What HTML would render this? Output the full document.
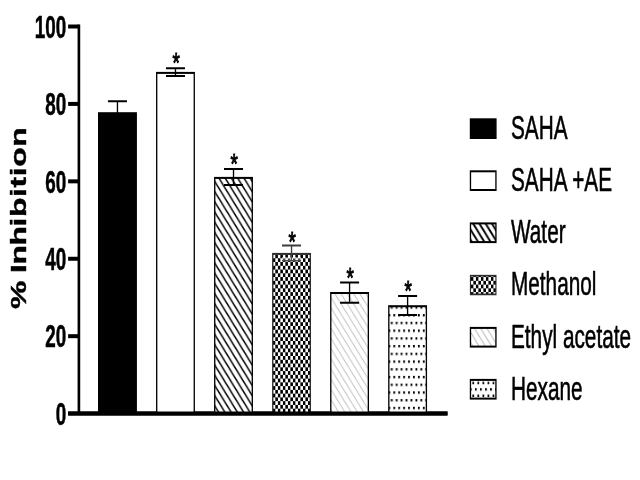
<!DOCTYPE html>
<html><head><meta charset="utf-8"><title>% Inhibition</title>
<style>html,body{margin:0;padding:0;background:#fff;overflow:hidden}svg{display:block}text{font-family:"Liberation Sans",sans-serif;fill:#000}</style>
</head><body>
<svg width="640" height="480" viewBox="0 0 960 480" preserveAspectRatio="none">
<defs>
<pattern id="hw" patternUnits="userSpaceOnUse" width="9.375" height="10.2" x="323.10" y="182.50">
<rect width="9.375" height="10.2" fill="#fff"/>
<path d="M-9.375,-10.2 L18.75,20.4 M0,-10.2 L18.75,10.2 M-9.375,0 L9.375,20.4" stroke="#000" stroke-width="1.9" fill="none"/>
</pattern>
<pattern id="he" patternUnits="userSpaceOnUse" width="9.375" height="10.2" x="500.25" y="311.90">
<rect width="9.375" height="10.2" fill="#fff"/>
<path d="M-9.375,-10.2 L18.75,20.4 M0,-10.2 L18.75,10.2 M-9.375,0 L9.375,20.4" stroke="#b0b0b0" stroke-width="1.0" fill="none"/>
</pattern>
<pattern id="hw2" patternUnits="userSpaceOnUse" width="9.375" height="10.2" x="719.10" y="223.60">
<rect width="9.375" height="10.2" fill="#fff"/>
<path d="M-9.375,-10.2 L18.75,20.4 M0,-10.2 L18.75,10.2 M-9.375,0 L9.375,20.4" stroke="#000" stroke-width="2.4" fill="none"/>
</pattern>
<pattern id="he2" patternUnits="userSpaceOnUse" width="9.375" height="10.2" x="711.75" y="328.50">
<rect width="9.375" height="10.2" fill="#fff"/>
<path d="M-9.375,-10.2 L18.75,20.4 M0,-10.2 L18.75,10.2 M-9.375,0 L9.375,20.4" stroke="#b4b4b4" stroke-width="1.1" fill="none"/>
</pattern>
<pattern id="ck" patternUnits="userSpaceOnUse" width="7.52" height="7.52" x="413.01" y="404.92">
<rect width="7.52" height="7.52" fill="#fff"/><rect x="0" y="0" width="3.76" height="3.76" fill="#000"/><rect x="3.76" y="3.76" width="3.76" height="3.76" fill="#000"/>
</pattern>
<pattern id="dt" patternUnits="userSpaceOnUse" width="7.38" height="15.46" x="590.02" y="406.80">
<rect width="7.38" height="15.46" fill="#fff"/><rect x="0" y="0" width="2.7" height="2.4" fill="#000"/><rect x="3.69" y="7.73" width="2.7" height="2.4" fill="#000"/>
</pattern>
<pattern id="dt2" patternUnits="userSpaceOnUse" width="7.58" height="12.8" x="712.35" y="388.20">
<rect width="7.58" height="12.8" fill="#fff"/><rect x="0" y="0" width="2.7" height="2.4" fill="#000"/><rect x="3.79" y="6.4" width="2.7" height="2.4" fill="#000"/>
</pattern>
</defs>
<rect width="960" height="480" fill="#fff"/>
<g stroke="#000" stroke-width="4" fill="none">
<path d="M118.35000000000001,24.5 V413.6"/>
<path d="M102.14999999999999,413.6 H671.25"/>
<path d="M102.14999999999999,336.18 H118.35000000000001"/>
<path d="M102.14999999999999,258.76 H118.35000000000001"/>
<path d="M102.14999999999999,181.34000000000003 H118.35000000000001"/>
<path d="M102.14999999999999,103.92000000000002 H118.35000000000001"/>
<path d="M102.14999999999999,26.5 H118.35000000000001"/>
</g>
<text transform="translate(99.45,424.8) scale(0.883,1)" font-size="32" font-weight="bold" text-anchor="end" stroke="#000" stroke-width="0.6">0</text>
<text transform="translate(99.45,347.38) scale(0.883,1)" font-size="32" font-weight="bold" text-anchor="end" stroke="#000" stroke-width="0.6">20</text>
<text transform="translate(99.45,269.96) scale(0.883,1)" font-size="32" font-weight="bold" text-anchor="end" stroke="#000" stroke-width="0.6">40</text>
<text transform="translate(99.45,192.54000000000002) scale(0.883,1)" font-size="32" font-weight="bold" text-anchor="end" stroke="#000" stroke-width="0.6">60</text>
<text transform="translate(99.45,115.12000000000002) scale(0.883,1)" font-size="32" font-weight="bold" text-anchor="end" stroke="#000" stroke-width="0.6">80</text>
<text transform="translate(99.45,37.7) scale(0.883,1)" font-size="32" font-weight="bold" text-anchor="end" stroke="#000" stroke-width="0.6">100</text>
<text transform="translate(39.0,218.2) rotate(-90) scale(0.965,1.03)" font-size="33" font-weight="bold" text-anchor="middle" stroke="#000" stroke-width="0.6" dx="0 -0.5 -0.5 -0.5 -0.5 -0.5 0.65 0.65 0.65 0.65 0.65 0.65">% Inhibition</text>
<rect x="148.00" y="113.20" width="56.35" height="300.40" fill="#000" stroke="#000" stroke-width="2"/>
<path d="M161.93,101.2 H190.43 M176.18,101.2 V113.2" stroke="#000" stroke-width="2" fill="none"/>
<rect x="235.05" y="72.90" width="56.35" height="340.70" fill="#fff" stroke="#000" stroke-width="2"/>
<path d="M248.97,68.2 H277.47 M263.22,68.2 V76.1 M248.97,76.1 H277.47" stroke="#000" stroke-width="2" fill="none"/>
<text x="264.27" y="71.80" font-size="28.3" text-anchor="middle" stroke="#000" stroke-width="1.0">*</text>
<rect x="322.09" y="177.90" width="56.35" height="235.70" fill="url(#hw)" stroke="#000" stroke-width="2"/>
<path d="M336.02,168.9 H364.52 M350.27,168.9 V185.1 M336.02,185.1 H364.52" stroke="#000" stroke-width="2" fill="none"/>
<text x="351.32" y="173.10" font-size="28.3" text-anchor="middle" stroke="#000" stroke-width="1.0">*</text>
<rect x="409.14" y="253.90" width="56.35" height="159.70" fill="url(#ck)" stroke="#2e2e2e" stroke-width="2"/>
<path d="M423.06,245.5 H451.56 M437.31,245.5 V253.9" stroke="#3c3c3c" stroke-width="2" fill="none"/>
<rect x="423.06" y="257.0" width="28.50" height="2.6" fill="#fff" opacity="0.45"/>
<path d="M437.31,254.9 V260.2 M423.06,260.8 H451.56" stroke="#4a4a4a" stroke-width="1.4" fill="none"/>
<text x="438.36" y="250.60" font-size="28.3" text-anchor="middle" stroke="#000" stroke-width="1.0">*</text>
<rect x="496.18" y="293.00" width="56.35" height="120.60" fill="url(#he)" stroke="#000" stroke-width="2"/>
<path d="M510.11,282.4 H538.61 M524.36,282.4 V302.7 M510.11,302.7 H538.61" stroke="#000" stroke-width="2" fill="none"/>
<text x="525.40" y="287.25" font-size="28.3" text-anchor="middle" stroke="#000" stroke-width="1.0">*</text>
<rect x="583.23" y="306.20" width="56.35" height="107.40" fill="url(#dt)" stroke="#000" stroke-width="2"/>
<path d="M597.15,296.1 H625.65 M611.40,296.1 V315 M597.15,315 H625.65" stroke="#000" stroke-width="2" fill="none"/>
<text x="612.45" y="300.00" font-size="28.3" text-anchor="middle" stroke="#000" stroke-width="1.0">*</text>
<path d="M102.14999999999999,413.6 H671.25" stroke="#000" stroke-width="4"/>
<rect x="705.70" y="119.3" width="38.20" height="18.7" fill="#000" stroke="#000" stroke-width="2"/>
<text transform="translate(766.50,139.00) scale(0.93,1)" font-size="33.5" stroke="#000" stroke-width="0.6">SAHA</text>
<rect x="705.70" y="171.3" width="38.20" height="18.7" fill="#fff" stroke="#000" stroke-width="2"/>
<text transform="translate(766.50,191.00) scale(0.93,1)" font-size="33.5" stroke="#000" stroke-width="0.6">SAHA +AE</text>
<rect x="705.70" y="223.4" width="38.20" height="18.7" fill="url(#hw2)" stroke="#000" stroke-width="2"/>
<text transform="translate(766.50,243.10) scale(0.93,1)" font-size="33.5" stroke="#000" stroke-width="0.6">Water</text>
<rect x="705.70" y="275.7" width="38.20" height="18.7" fill="url(#ck)" stroke="#2e2e2e" stroke-width="1.7"/>
<text transform="translate(766.50,295.40) scale(0.93,1)" font-size="33.5" stroke="#000" stroke-width="0.6">Methanol</text>
<rect x="705.70" y="327.9" width="38.20" height="18.7" fill="url(#he2)" stroke="#000" stroke-width="2"/>
<text transform="translate(766.50,347.60) scale(0.93,1)" font-size="33.5" stroke="#000" stroke-width="0.6">Ethyl acetate</text>
<rect x="705.70" y="379.9" width="38.20" height="18.7" fill="url(#dt2)" stroke="#000" stroke-width="2"/>
<text transform="translate(766.50,399.60) scale(0.93,1)" font-size="33.5" stroke="#000" stroke-width="0.6">Hexane</text>
</svg>
</body></html>
